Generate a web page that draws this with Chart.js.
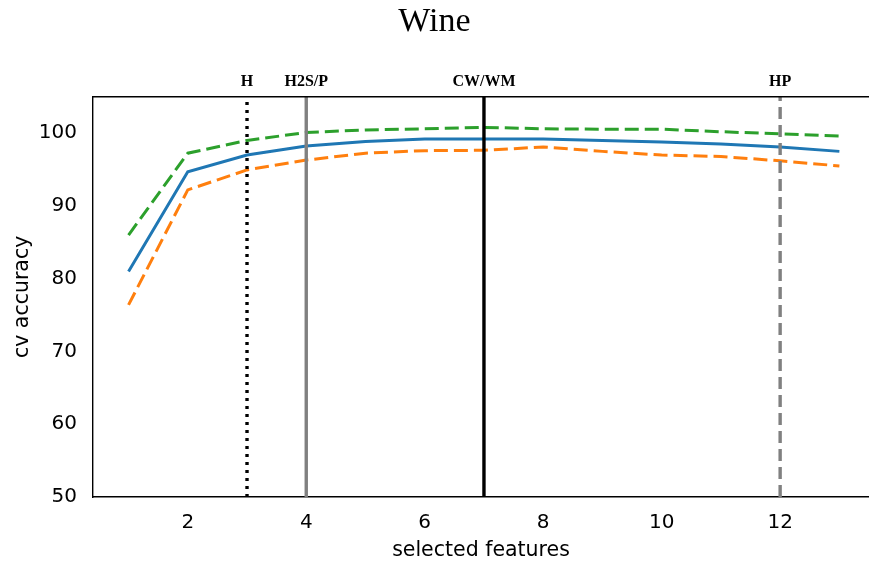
<!DOCTYPE html>
<html>
<head>
<meta charset="utf-8">
<script src="https://cdn.jsdelivr.net/npm/chart.js@4.4.0/dist/chart.umd.min.js"></script>
<style>
  html, body { margin: 0; padding: 0; background: #fff; overflow: hidden; }
  canvas { display: block; }
</style>
</head>
<body>
<canvas id="c" width="869" height="566"></canvas>
<script>
// ---- data ----
const features = [1, 2, 3, 4, 5, 6, 7, 8, 9, 10, 11, 12, 13];
const meanAcc  = [81.0, 94.7, 97.0, 98.25, 98.85, 99.2, 99.2, 99.2, 99.0, 98.8, 98.5, 98.1, 97.5];
const upperAcc = [86.0, 97.25, 99.0, 100.1, 100.45, 100.6, 100.8, 100.6, 100.55, 100.55, 100.2, 99.9, 99.6];
const lowerAcc = [76.4, 92.2, 94.95, 96.3, 97.25, 97.6, 97.65, 98.1, 97.5, 97.0, 96.8, 96.2, 95.5];
const markerNames = ['H', 'H2S/P', 'CW/WM', 'HP'];
const markerX     = [3, 4, 7, 12];
const xTicks = [2, 4, 6, 8, 10, 12];
const yTicks = [50, 60, 70, 80, 90, 100];
const yMin = 50, yMax = 105;
const xMin = 0.4, xMax = 13.5;

// ---- styles for marker lines ----
const markerStyles = [
  { color: '#000000', dash: [3, 5] },
  { color: '#808080', dash: [] },
  { color: '#000000', dash: [] },
  { color: '#808080', dash: [12, 6] }
];

const pts = arr => features.map((f, i) => ({ x: f, y: arr[i] }));

const markerSets = markerX.map((mx, i) => ({
  label: markerNames[i],
  data: [{ x: mx, y: yMin }, { x: mx, y: yMax }],
  borderColor: markerStyles[i].color,
  borderDash: markerStyles[i].dash,
  borderWidth: 3.4,
  pointRadius: 0,
  borderCapStyle: 'butt',
  fill: false
}));

const dataSets = [
  { label: 'mean', data: pts(meanAcc), borderColor: '#1f77b4', borderWidth: 3, borderDash: [] },
  { label: 'upper', data: pts(upperAcc), borderColor: '#2ca02c', borderWidth: 3, borderDash: [14, 6] },
  { label: 'lower', data: pts(lowerAcc), borderColor: '#ff7f0e', borderWidth: 3, borderDash: [14, 6] }
].map(d => Object.assign({ pointRadius: 0, fill: false, tension: 0, borderCapStyle: 'butt' }, d));

const extras = {
  id: 'extras',
  afterDraw(chart) {
    const { ctx, chartArea, scales } = chart;
    ctx.save();
    // top spine
    ctx.strokeStyle = '#000';
    ctx.lineWidth = 1.4;
    ctx.beginPath();
    ctx.moveTo(chartArea.left, chartArea.top);
    ctx.lineTo(chart.width, chartArea.top);
    ctx.stroke();
    // marker labels
    ctx.fillStyle = '#000';
    ctx.font = 'bold 16px "Liberation Serif", serif';
    ctx.textAlign = 'center';
    ctx.textBaseline = 'alphabetic';
    markerX.forEach((mx, i) => {
      ctx.fillText(markerNames[i], scales.x.getPixelForValue(mx), chartArea.top - 11);
    });
    ctx.restore();
  }
};

const tickFont = { family: '"DejaVu Sans", sans-serif', size: 20 };
const titleFont = { family: '"DejaVu Sans", sans-serif', size: 20.5 };

new Chart(document.getElementById('c'), {
  type: 'line',
  data: { datasets: markerSets.concat(dataSets) },
  options: {
    responsive: false,
    animation: false,
    devicePixelRatio: 1,
    layout: { padding: { left: 0, right: 0, top: 0, bottom: 0 } },
    plugins: {
      legend: { display: false },
      tooltip: { enabled: false },
      title: {
        display: true,
        text: 'Wine',
        color: '#000',
        font: { family: '"Liberation Serif", "DejaVu Serif", serif', size: 34, weight: 'normal' },
        padding: { top: 2, bottom: 54 }
      }
    },
    scales: {
      x: {
        type: 'linear',
        min: xMin, max: xMax,
        afterBuildTicks: s => { s.ticks = xTicks.map(v => ({ value: v })); },
        afterFit: s => { s.height = 69; },
        grid: { display: false, drawTicks: true, tickLength: 6, tickColor: '#000' },
        border: { display: true, color: '#000', width: 1.4 },
        ticks: { color: '#000', font: tickFont, padding: 8, maxRotation: 0, autoSkip: false },
        title: { display: true, text: 'selected features', color: '#000', font: titleFont, padding: { top: 0, bottom: 3 } }
      },
      y: {
        type: 'linear',
        min: yMin, max: yMax,
        afterBuildTicks: s => { s.ticks = yTicks.map(v => ({ value: v })); },
        afterFit: s => { s.width = 93; },
        grid: { display: false, drawTicks: true, tickLength: 6, tickColor: '#000' },
        border: { display: true, color: '#000', width: 1.4 },
        ticks: { color: '#000', font: tickFont, padding: 10, autoSkip: false },
        title: { display: true, text: 'cv accuracy', color: '#000', font: titleFont, padding: { top: 10, bottom: 0 } }
      }
    }
  },
  plugins: [extras]
});
</script>
</body>
</html>
